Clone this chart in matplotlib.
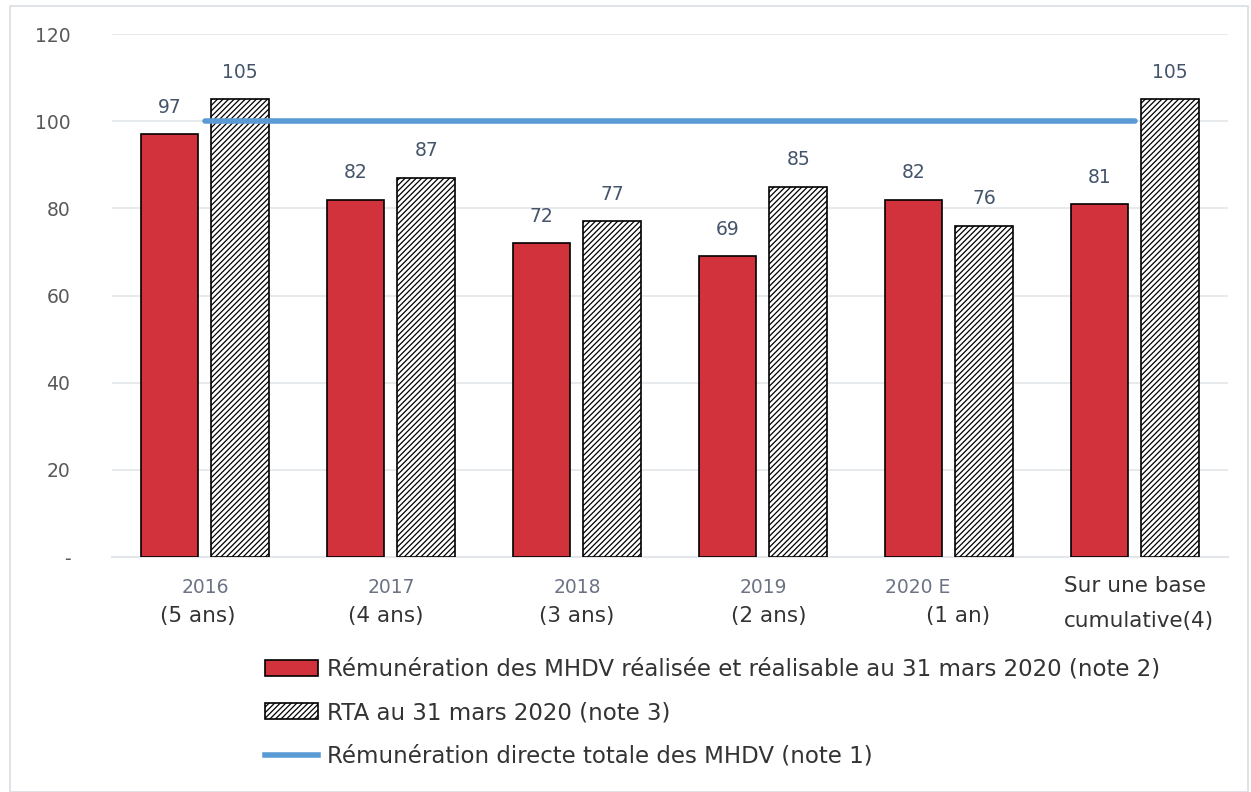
import matplotlib.pyplot as plt
import matplotlib.patches as mpatches
from matplotlib.lines import Line2D
import numpy as np

years = ['2016', '2017', '2018', '2019', '2020 E', '']
durations = ['(5 ans)', '(4 ans)', '(3 ans)', '(2 ans)', '(1 an)', '']
last_label = ['Sur une base', 'cumulative(4)']
realisee = [97, 82, 72, 69, 82, 81]
rta = [105, 87, 77, 85, 76, 105]
directe = [100, 100, 100, 100, 100, 100]
yticks = [0, 20, 40, 60, 80, 100, 120]
yticklabels = ['-', '20', '40', '60', '80', '100', '120']

lab_red = 'Rémunération des MHDV réalisée et réalisable au 31 mars 2020 (note 2)'
lab_rta = 'RTA au 31 mars 2020 (note 3)'
lab_line = 'Rémunération directe totale des MHDV (note 1)'

red = '#D1323B'
blue = '#5B9BD5'
gray_txt = '#595959'
plt.rcParams['hatch.linewidth'] = 0.9

fig = plt.figure(figsize=(12.51, 7.92), dpi=100)
ax = fig.add_axes([0.0895, 0.2967, 0.892, 0.6603])
x = np.arange(len(realisee))
w = 0.31
off = 0.19

ax.bar(x - off, realisee, w, color=red, edgecolor='black', linewidth=1.2, zorder=3)
ax.bar(x + off, rta, w, color='white', edgecolor='black', hatch='//////', linewidth=1.2, zorder=3)
ax.plot(x, directe, color=blue, linewidth=4, solid_capstyle='round', zorder=4)

for i in range(len(x)):
    ax.text(x[i] - off, realisee[i] + 4, str(realisee[i]), ha='center', va='bottom',
            fontsize=13.5, color='#44546A', family='Liberation Sans Narrow')
    ax.text(x[i] + off, rta[i] + 4, str(rta[i]), ha='center', va='bottom',
            fontsize=13.5, color='#44546A', family='Liberation Sans Narrow')

ax.set_xlim(-0.5, 5.5)
ax.set_ylim(0, 120)
ax.set_yticks(yticks)
ax.set_yticklabels(yticklabels, fontsize=13.5, color=gray_txt, family='Liberation Sans Narrow')
ax.tick_params(axis='y', length=0, pad=30)
ax.set_xticks([])
ax.grid(axis='y', color='#E3E6EA', linewidth=1.2, zorder=0)
for s in ['top', 'right', 'left']:
    ax.spines[s].set_visible(False)
ax.spines['bottom'].set_color('#E3E6EA')
ax.spines['bottom'].set_linewidth(1.5)

# category labels (two lines, different styles)
year_shift = [0, 0, 0, 0, -0.17, 0]
dur_shift = [-0.04, -0.03, 0, 0.03, 0.05, 0]
tr = ax.get_xaxis_transform()
for i in range(5):
    ax.text(x[i] + year_shift[i], -0.058, years[i], transform=tr, ha='center', va='center',
            fontsize=13.5, color='#6B7385', family='Liberation Sans Narrow')
    ax.text(x[i] + dur_shift[i], -0.113, durations[i], transform=tr, ha='center', va='center',
            fontsize=15.5, color='#333333', family='DejaVu Sans')
ax.text(x[5], -0.056, last_label[0], transform=tr, ha='center', va='center',
        fontsize=15.5, color='#333333', family='DejaVu Sans')
ax.text(x[5] + 0.02, -0.123, last_label[1], transform=tr, ha='center', va='center',
        fontsize=15.5, color='#333333', family='DejaVu Sans')

handles = [mpatches.Patch(facecolor=red, edgecolor='black', linewidth=1.2),
           mpatches.Patch(facecolor='white', edgecolor='black', hatch='//////', linewidth=1.2),
           Line2D([0], [0], color=blue, linewidth=4)]
leg = fig.legend(handles, [lab_red, lab_rta, lab_line], loc='upper left',
                 bbox_to_anchor=(0.199, 0.19), frameon=False, fontsize=16.5,
                 handlelength=2.3, handleheight=0.7, handletextpad=0.4, labelspacing=0.9,
                 borderpad=0.2)
for t in leg.get_texts():
    t.set_color('#333333')

fig.patches.append(mpatches.Rectangle((0.008, 0.0), 0.99, 0.992, transform=fig.transFigure,
                                      fill=False, edgecolor='#D9DDE3', linewidth=1.2))

fig.savefig('out.png', dpi=100)
